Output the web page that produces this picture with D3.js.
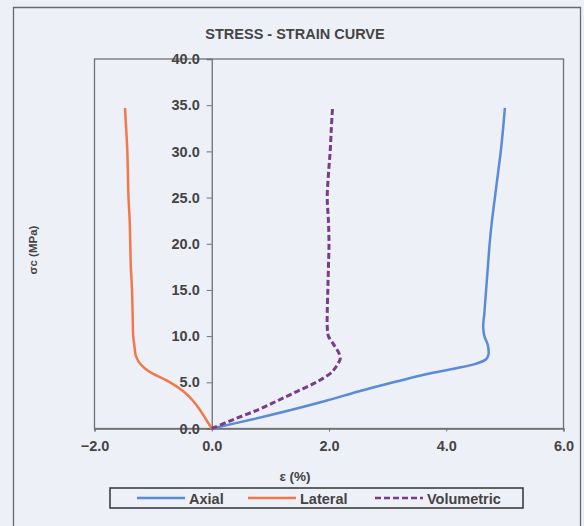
<!DOCTYPE html>
<html>
<head>
<meta charset="utf-8">
<script src="https://cdn.jsdelivr.net/npm/d3@7"></script>
<style>
  html, body { margin: 0; padding: 0; background: #eef0f8; }
  svg { display: block; }
  text { font-family: "Liberation Sans", Arial, sans-serif; }
</style>
</head>
<body>
<svg id="chart" width="584" height="526"></svg>
<script>
// Stress levels (MPa) shared by all three strain series
const stress = [0, 1, 2, 3, 4, 5, 6, 6.5, 7, 7.5, 8, 9, 10, 11, 12.5, 15, 17.5, 20, 22.5, 25, 27.5, 30, 32.5, 34.7];
// Strain readings (%) at each stress level
const axial = [0, 0.7, 1.35, 1.95, 2.5, 3.1, 3.75, 4.15, 4.5, 4.68, 4.72, 4.71, 4.65, 4.63, 4.65, 4.68, 4.71, 4.74, 4.78, 4.83, 4.88, 4.93, 4.97, 5.0];
const lateral = [0, -0.1, -0.2, -0.32, -0.48, -0.71, -1.02, -1.14, -1.22, -1.27, -1.3, -1.32, -1.34, -1.345, -1.35, -1.36, -1.38, -1.39, -1.4, -1.42, -1.43, -1.44, -1.46, -1.48];
const volumetric = [0, 0.38, 0.78, 1.12, 1.45, 1.78, 2.03, 2.1, 2.15, 2.19, 2.18, 2.09, 1.99, 1.97, 1.97, 1.98, 1.99, 2.0, 1.99, 1.97, 1.99, 2.02, 2.04, 2.06];

const seriesNames = ["Axial", "Lateral", "Volumetric"];
const seriesColors = ["#5a8ad8", "#f2784a", "#773d8c"];
const xTicks = [-2, 0, 2, 4, 6];
const yTicks = [0, 5, 10, 15, 20, 25, 30, 35, 40];

const svg = d3.select("#chart");
const textColor = "#444";

// Outer chart frame
svg.append("path")
  .attr("d", "M13.5,526 L13.5,7.5 L580.5,7.5 L580.5,526")
  .attr("fill", "none").attr("stroke", "#6a6a6a").attr("stroke-width", 1.3);

const plot = { left: 94.5, right: 563.5, top: 59, bottom: 428.5 };
const x = d3.scaleLinear().domain([-2, 6]).range([plot.left, plot.right]);
const y = d3.scaleLinear().domain([0, 40]).range([plot.bottom, plot.top]);

// Plot area border
svg.append("rect")
  .attr("x", plot.left).attr("y", plot.top)
  .attr("width", plot.right - plot.left).attr("height", plot.bottom - plot.top)
  .attr("fill", "none").attr("stroke", "#707070").attr("stroke-width", 1.3);

// Title
svg.append("text")
  .attr("x", 295).attr("y", 39)
  .attr("text-anchor", "middle")
  .attr("font-size", 14.5).attr("font-weight", "bold").attr("fill", textColor)
  .text("STRESS - STRAIN CURVE");

// X axis along the bottom of the plot
const xAxis = svg.append("g")
  .attr("transform", `translate(0,${plot.bottom})`)
  .call(d3.axisBottom(x).tickValues(xTicks).tickFormat(d3.format(".1f")).tickSize(3).tickPadding(9));
xAxis.select(".domain").attr("stroke", "#707070").attr("stroke-width", 1.3);
xAxis.selectAll(".tick line").attr("stroke", "#707070");
xAxis.selectAll("text").attr("font-size", 14.5).attr("font-weight", "bold").attr("fill", textColor)
  .attr("font-family", "Liberation Sans, Arial, sans-serif");

// Y axis crossing at zero strain
const yAxis = svg.append("g")
  .attr("transform", `translate(${x(0)},0)`)
  .call(d3.axisLeft(y).tickValues(yTicks).tickFormat(d3.format(".1f")).tickSize(5).tickPadding(7));
yAxis.select(".domain").attr("stroke", "#707070").attr("stroke-width", 1.3);
yAxis.selectAll(".tick line").attr("stroke", "#707070");
yAxis.selectAll("text").attr("font-size", 14.5).attr("font-weight", "bold").attr("fill", textColor)
  .attr("font-family", "Liberation Sans, Arial, sans-serif");

// Axis titles
svg.append("text")
  .attr("x", 295).attr("y", 481)
  .attr("text-anchor", "middle")
  .attr("font-size", 13.5).attr("font-weight", "bold").attr("fill", textColor)
  .text("ε (%)");
svg.append("text")
  .attr("transform", `translate(37,250) rotate(-90)`)
  .attr("text-anchor", "middle")
  .attr("font-size", 11.5).attr("font-weight", "bold").attr("fill", textColor)
  .text("σc (MPa)");

// Curves
const strainSets = [axial, lateral, volumetric];
const line = d3.line()
  .x(d => x(d[0]))
  .y(d => y(d[1]))
  .curve(d3.curveCatmullRom.alpha(0.5));

strainSets.forEach((strain, i) => {
  const pts = strain.map((e, k) => [e, stress[k]]);
  svg.append("path")
    .attr("d", line(pts))
    .attr("fill", "none")
    .attr("stroke", seriesColors[i])
    .attr("stroke-width", i === 2 ? 3 : 2.5)
    .attr("stroke-dasharray", i === 2 ? "6,3" : null)
    .attr("stroke-linejoin", "round");
});

// Legend
const legend = svg.append("g");
legend.append("rect")
  .attr("x", 110).attr("y", 488).attr("width", 413).attr("height", 20)
  .attr("fill", "none").attr("stroke", "#333").attr("stroke-width", 1.5);
const legendX = [137, 248, 375];
seriesNames.forEach((name, i) => {
  legend.append("line")
    .attr("x1", legendX[i]).attr("x2", legendX[i] + 48)
    .attr("y1", 498).attr("y2", 498)
    .attr("stroke", seriesColors[i]).attr("stroke-width", 2.5)
    .attr("stroke-dasharray", i === 2 ? "6,3" : null);
  legend.append("text")
    .attr("x", legendX[i] + 52).attr("y", 503.5)
    .attr("font-size", 14.5).attr("font-weight", "bold").attr("fill", textColor)
    .text(name);
});
</script>
</body>
</html>
